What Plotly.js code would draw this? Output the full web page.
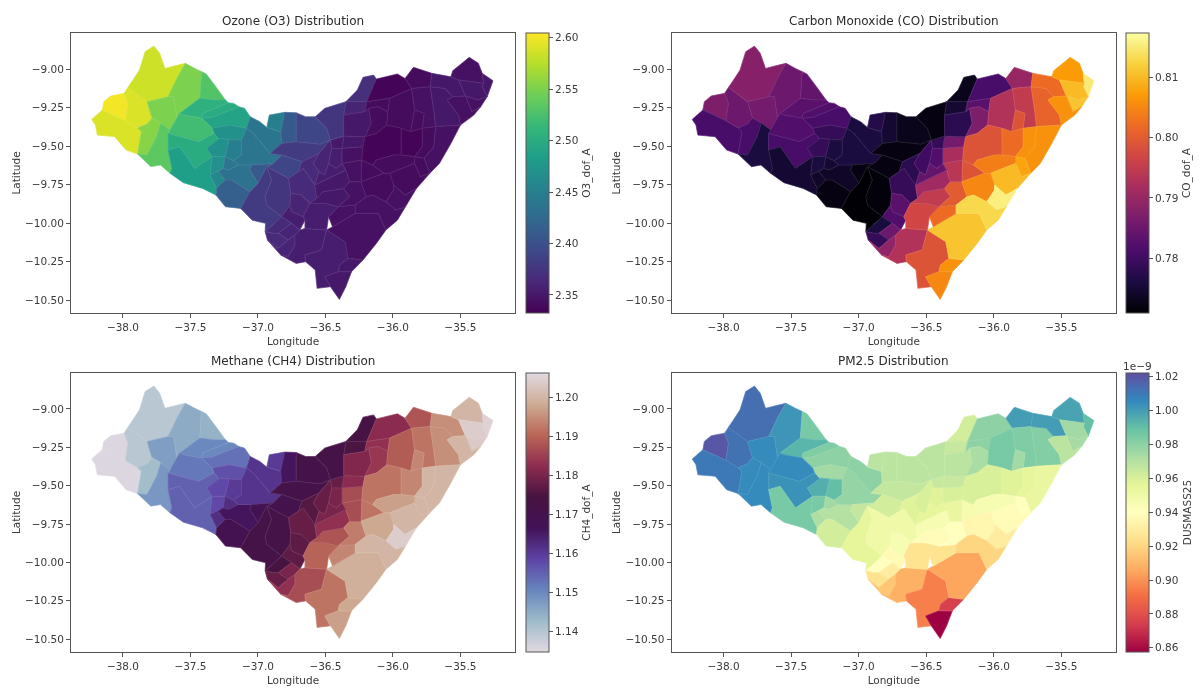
<!DOCTYPE html>
<html><head><meta charset="utf-8">
<script src="https://cdn.plot.ly/plotly-3.0.1.min.js"></script>
<style>html,body{margin:0;padding:0;background:#fff}#g{width:1199px;height:688px;filter:blur(0.45px)}</style>
</head><body><div id="g"></div>
<script>
// State boundary nodes (lon, lat), ids 0..80
const outlineLon=[-38.232,-38.153,-38.142,-38.091,-37.992,-37.963,-37.926,-37.878,-37.836,-37.771,-37.728,-37.689,-37.623,-37.538,-37.468,-37.417,-37.383,-37.312,-37.241,-37.179,-37.100,-37.057,-36.986,-36.935,-36.916,-36.802,-36.717,-36.647,-36.576,-36.505,-36.349,-36.264,-36.222,-36.143,-36.123,-35.967,-35.911,-35.848,-35.712,-35.571,-35.557,-35.435,-35.367,-35.339,-35.259,-35.302,-35.401,-35.500,-35.571,-35.656,-35.727,-35.826,-35.967,-36.052,-36.123,-36.222,-36.307,-36.349,-36.397,-36.463,-36.562,-36.576,-36.647,-36.717,-36.831,-36.930,-36.944,-37.043,-37.128,-37.241,-37.312,-37.411,-37.553,-37.652,-37.723,-37.793,-37.892,-37.977,-38.062,-38.190,-38.204];
const outlineLat=[-9.327,-9.266,-9.212,-9.175,-9.158,-9.119,-9.071,-9.006,-8.887,-8.851,-8.898,-8.996,-8.981,-8.963,-8.996,-9.017,-9.032,-9.115,-9.201,-9.223,-9.255,-9.310,-9.342,-9.379,-9.299,-9.281,-9.284,-9.310,-9.310,-9.255,-9.212,-9.136,-9.054,-9.039,-9.065,-9.032,-9.061,-8.989,-9.028,-9.050,-9.011,-8.924,-8.963,-9.028,-9.076,-9.180,-9.299,-9.364,-9.483,-9.613,-9.677,-9.775,-9.981,-10.045,-10.132,-10.240,-10.316,-10.413,-10.496,-10.413,-10.424,-10.305,-10.251,-10.262,-10.208,-10.110,-10.002,-9.981,-9.905,-9.894,-9.818,-9.775,-9.738,-9.677,-9.623,-9.634,-9.552,-9.526,-9.439,-9.429,-9.364];
// Interior boundary nodes: id -> [lon, lat]
const innerNodes={100:[-37.963,-9.223],101:[-37.983,-9.335],102:[-37.864,-9.407],103:[-37.785,-9.318],104:[-37.822,-9.357],105:[-37.890,-9.383],106:[-37.822,-9.212],107:[-37.666,-9.180],108:[-37.595,-9.050],109:[-37.623,-9.180],110:[-37.601,-9.318],111:[-37.652,-9.396],112:[-37.720,-9.351],113:[-37.431,-9.190],114:[-37.581,-9.288],115:[-37.326,-9.201],116:[-37.751,-9.439],117:[-37.822,-9.558],118:[-37.666,-9.526],119:[-37.638,-9.645],120:[-37.219,-9.219],121:[-37.411,-9.288],122:[-37.417,-9.320],123:[-37.553,-9.299],124:[-37.142,-9.245],125:[-37.340,-9.314],126:[-37.085,-9.385],127:[-37.213,-9.364],128:[-37.340,-9.385],129:[-37.326,-9.418],130:[-37.439,-9.472],131:[-37.666,-9.418],132:[-37.284,-9.461],133:[-37.340,-9.569],134:[-37.468,-9.645],135:[-37.581,-9.504],140:[-37.380,-9.515],141:[-37.281,-9.450],142:[-37.122,-9.461],143:[-37.122,-9.558],144:[-37.182,-9.595],145:[-37.244,-9.569],147:[-37.213,-9.457],148:[-37.258,-9.645],150:[-37.219,-9.656],151:[-37.295,-9.667],152:[-37.244,-9.721],153:[-37.306,-9.775],154:[-37.354,-9.688],155:[-37.145,-9.623],156:[-37.046,-9.623],157:[-37.060,-9.656],158:[-36.998,-9.742],159:[-37.060,-9.797],160:[-37.196,-9.721],164:[-37.034,-9.418],165:[-36.910,-9.548],166:[-36.825,-9.558],167:[-36.887,-9.613],170:[-36.935,-9.634],171:[-36.899,-9.721],172:[-36.947,-9.829],173:[-36.935,-9.883],174:[-36.825,-9.959],175:[-36.947,-10.056],176:[-36.675,-9.602],177:[-36.700,-9.667],178:[-36.774,-9.710],179:[-36.757,-9.807],180:[-36.763,-9.883],181:[-36.831,-9.407],182:[-36.825,-9.483],183:[-36.717,-9.418],184:[-36.717,-9.472],185:[-36.491,-9.385],186:[-36.463,-9.461],187:[-36.539,-9.489],188:[-36.548,-9.548],189:[-36.664,-9.645],190:[-36.579,-9.753],191:[-36.564,-9.840],192:[-36.678,-9.818],194:[-36.616,-9.872],195:[-36.666,-9.959],196:[-36.751,-9.926],197:[-36.652,-9.981],198:[-36.689,-10.045],199:[-36.751,-10.002],200:[-36.726,-10.078],201:[-36.777,-10.110],202:[-36.850,-10.067],203:[-36.887,-10.067],204:[-36.850,-10.165],206:[-36.726,-10.143],207:[-36.777,-10.219],208:[-36.652,-10.035],209:[-36.491,-10.045],210:[-36.530,-10.175],211:[-36.652,-10.208],213:[-36.355,-10.121],214:[-36.332,-10.229],215:[-36.395,-10.273],216:[-36.505,-10.349],217:[-36.406,-10.316],219:[-36.279,-9.937],220:[-36.109,-9.937],221:[-36.448,-10.024],222:[-36.477,-9.959],223:[-36.406,-9.894],224:[-36.279,-9.883],225:[-36.505,-9.872],226:[-36.519,-9.797],227:[-36.364,-9.775],228:[-36.321,-9.829],229:[-36.349,-9.656],230:[-36.321,-9.732],231:[-36.236,-9.732],232:[-36.199,-9.829],233:[-36.378,-9.613],234:[-36.230,-9.591],235:[-36.151,-9.623],236:[-36.066,-9.677],237:[-36.378,-9.515],238:[-36.222,-9.504],239:[-36.364,-9.435],240:[-36.208,-9.439],241:[-36.454,-9.515],243:[-36.548,-9.667],244:[-36.590,-9.613],246:[-36.477,-9.613],247:[-36.505,-9.688],248:[-36.420,-9.645],249:[-36.364,-9.299],251:[-36.194,-9.212],253:[-36.208,-9.277],254:[-36.179,-9.255],255:[-36.160,-9.353],256:[-35.862,-9.126],257:[-36.024,-9.190],258:[-35.724,-9.115],259:[-36.038,-9.277],260:[-36.109,-9.245],261:[-36.046,-9.364],262:[-36.123,-9.418],263:[-35.840,-9.266],264:[-35.868,-9.407],265:[-35.939,-9.385],266:[-35.698,-9.266],267:[-35.684,-9.374],268:[-35.783,-9.385],269:[-35.769,-9.288],271:[-35.613,-9.126],272:[-35.557,-9.180],273:[-35.599,-9.201],274:[-35.514,-9.299],276:[-35.514,-9.071],277:[-35.463,-9.175],278:[-35.330,-9.093],279:[-35.339,-9.115],280:[-35.373,-9.201],281:[-35.350,-9.245],282:[-35.415,-9.277],283:[-35.939,-9.504],284:[-35.995,-9.558],285:[-36.123,-9.591],286:[-35.783,-9.504],287:[-35.840,-9.569],288:[-35.939,-9.558],289:[-35.698,-9.504],290:[-35.769,-9.580],291:[-35.797,-9.699],292:[-35.840,-9.613],293:[-36.024,-9.677],294:[-35.911,-9.818],295:[-35.995,-9.753],296:[-35.995,-9.786],297:[-36.052,-9.861],298:[-36.151,-9.818],299:[-35.981,-9.916],302:[-35.910,-9.898]};
// Municipalities: rings of node ids
const municipalities=[[1,2,3,4,100,101],[0,1,101,105,102,76,77,78,79,80],[4,5,106,103,104,105,101,100],[5,6,7,8,9,10,11,12,13,108,107,106],[106,107,109,110,111,112,103],[13,14,15,113,114,110,109,107,108],[15,16,17,18,115,113],[114,113,115,18,120,121,122,123],[121,120,19,124,125,122],[122,125,124,20,21,126,127,128],[128,127,126,142,147,141,132,129],[111,110,114,123,122,128,129,130,131],[105,104,103,112,116,117,76,102],[112,111,131,118,119,73,74,75,76,117,116],[131,130,129,132,140,133,134,135,118],[118,135,134,133,154,153,70,71,72,73,119],[140,141,147,145,133],[147,142,143,144,145],[133,145,148,154],[145,144,155,150,148],[154,148,151,152,153],[150,155,156,157,158,159,160,152,151,148],[153,152,160,159,68,69,70],[144,143,142,126,164,165,166,167,156,155],[126,21,22,23,181,182,165,164],[23,24,25,181],[25,26,183,184,182,181],[26,27,28,185,186,187,184,183],[182,184,187,186,188,176,166,165],[167,166,176,177,178,170],[156,167,170,158,157],[68,159,158,170,171,172,173,174,175,66,67],[170,178,179,180,174,173,172,171],[178,177,189,190,191,194,192,179],[179,192,194,195,196,180],[174,180,196,195,197,198,199],[174,199,202,203,175],[202,199,198,200,201],[175,203,202,201,204,65],[204,201,200,206,207,64,65],[200,198,208,209,210,211,62,63,64,207,206],[209,213,214,215,217,216,59,60,61,62,211,210],[216,217,56,57,58,59],[215,214,55,56,217],[209,221,219,220,53,54,55,214,213],[222,223,224,219,221],[194,225,223,222,209,208,197,195],[191,226,227,228,223,225,194],[190,229,230,227,226,191],[227,230,231,232,224,223,228],[233,234,231,230,229],[234,235,236,231],[237,238,234,233],[239,240,238,237],[186,239,237,241],[176,188,244,243,190,189,177],[188,186,241,246,247,243,244],[241,237,233,248,246],[246,248,233,229,190,243,247],[28,29,30,249,239,186,185],[30,31,32,33,34,251],[30,251,253,249],[249,253,254,255,240,239],[34,35,36,256,257,251],[36,37,38,258,256],[251,257,259,260,254,253],[254,260,259,261,262,240,255],[257,256,263,264,265,261,259],[256,258,266,267,268,269,263],[263,269,268,264],[258,271,272,273,274,47,267,266],[38,39,276,277,272,271,258],[39,40,41,42,43,278,276],[43,44,45,279,278],[276,278,279,45,280,277],[277,280,45,281,282],[272,277,282,281,46,47,274,273],[240,262,261,265,283,288,284,285,235,234,238],[265,264,268,286,287,288,283],[268,267,289,290,287,286],[267,47,48,49,50,290,289],[287,290,50,291,292],[235,285,284,288,287,292,293,236],[293,292,291,50,51,294,295],[231,236,293,295,296,297,298,232],[297,296,295,294,51,302,299],[232,298,297,299,302,52,53,220,219,224]];
const O3Values=[2.60,2.59,2.59,2.585,2.55,2.55,2.53,2.505,2.50,2.49,2.47,2.52,2.555,2.535,2.50,2.485,2.47,2.45,2.47,2.44,2.46,2.435,2.415,2.44,2.44,2.45,2.41,2.39,2.38,2.39,2.41,2.38,2.375,2.365,2.36,2.355,2.365,2.36,2.365,2.36,2.355,2.355,2.35,2.35,2.345,2.345,2.355,2.35,2.35,2.345,2.345,2.34,2.345,2.35,2.35,2.365,2.36,2.355,2.355,2.375,2.37,2.36,2.35,2.335,2.34,2.34,2.34,2.34,2.345,2.34,2.35,2.35,2.345,2.35,2.35,2.345,2.345,2.335,2.335,2.34,2.345,2.34,2.34,2.34,2.34,2.345,2.345];
const COValues=[.787,.781,.785,.788,.786,.785,.784,.783,.782,.781,.779,.782,.781,.776,.781,.775,.779,.776,.776,.775,.774,.774,.772,.776,.776,.777,.775,.773,.772,.772,.772,.771,.7715,.779,.783,.782,.776,.785,.779,.789,.793,.799,.805,.806,.811,.802,.797,.795,.791,.80,.794,.799,.792,.786,.779,.778,.78,.782,.784,.772,.773,.775,.778,.781,.79,.783,.787,.793,.795,.799,.801,.802,.807,.815,.81,.811,.806,.799,.802,.806,.806,.808,.804,.81,.805,.8155,.813];
const CH4Values=[1.1355,1.1355,1.1395,1.1395,1.147,1.145,1.144,1.15,1.15,1.153,1.157,1.152,1.142,1.148,1.155,1.155,1.158,1.16,1.158,1.162,1.162,1.166,1.169,1.161,1.161,1.16,1.166,1.171,1.171,1.17,1.168,1.172,1.172,1.178,1.177,1.177,1.174,1.18,1.178,1.183,1.187,1.192,1.197,1.198,1.199,1.194,1.19,1.188,1.183,1.193,1.187,1.192,1.187,1.182,1.178,1.176,1.178,1.18,1.18,1.172,1.173,1.175,1.181,1.182,1.188,1.183,1.184,1.189,1.192,1.194,1.195,1.195,1.2,1.205,1.204,1.2035,1.2,1.192,1.194,1.2,1.2,1.2,1.197,1.2,1.198,1.204,1.2];
const PMValues=[1.02,1.01,1.012,1.013,1.005,1.002,.985,.993,.983,.98,.975,1.005,1.005,1.005,1.003,.985,.995,.99,.985,.975,.972,.97,.962,.978,.98,.968,.968,.968,.966,.962,.966,.955,.95,.95,.945,.937,.94,.93,.925,.915,.908,.895,.8575,.875,.905,.925,.925,.938,.945,.94,.953,.946,.96,.965,.965,.958,.96,.958,.955,.968,.962,.965,.968,.98,1.0,.98,.973,.985,.983,.975,.982,1.0,.998,.99,.975,.974,.968,.96,.958,.955,.953,.94,.945,.938,.935,.93,.92];
// Colormaps
const viridisStops=["#440154","#482878","#3e4989","#31688e","#26828e","#1f9e89","#35b779","#6ece58","#b5de2b","#fde725"];
const infernoStops=["#000004","#1b0c41","#4a0c6b","#781c6d","#a52c60","#cf4446","#ed6925","#fb9b06","#f7d13d","#fcffa4"];
const twilightStops=["#e2d9e2","#9ebbc9","#6785be","#5e43a5","#421257","#471340","#8e2c50","#ba6657","#ceac94","#e2d9e2"];
const spectralStops=["#9e0142","#d53e4f","#f46d43","#fdae61","#fee08b","#ffffbf","#e6f598","#abdda4","#66c2a5","#3288bd","#5e4fa2"];
// Panel texts and scales
const panelTitles=["Ozone (O3) Distribution","Carbon Monoxide (CO) Distribution","Methane (CH4) Distribution","PM2.5 Distribution"];
const colorbarTitles=["O3_dof_A","CO_dof_A","CH4_dof_A","DUSMASS25"];
const valueRanges=[[2.3325,2.6046],[.77093,.81734],[1.1347,1.2063],[.8575,1.0222]];
const colorbarTicks=[[2.35,2.40,2.45,2.50,2.55,2.60],[.78,.79,.80,.81],[1.14,1.15,1.16,1.17,1.18,1.19,1.20],[.86,.88,.90,.92,.94,.96,.98,1.00,1.02]];
const lonTicks=[-38,-37.5,-37,-36.5,-36,-35.5];
const latTicks=[-9,-9.25,-9.5,-9.75,-10,-10.25,-10.5];

const W=1199,H=688;
const font='"DejaVu Sans", sans-serif', txt='#3a3a3a', axc='#555555';
const boxes=[[71,515,33,313],[671.5,1116,33,313],[71,515,373,652],[671.5,1116,373,652]];
const cbarLeft=[526,1126,526,1126];
const values=[O3Values,COValues,CH4Values,PMValues];
const stops=[viridisStops,infernoStops,twilightStops,spectralStops];

const hex=h=>[1,3,5].map(i=>parseInt(h.substr(i,2),16));
function sample(st,t){t=Math.max(0,Math.min(1,t));const p=t*(st.length-1),i=Math.min(Math.floor(p),st.length-2),f=p-i,a=hex(st[i]),b=hex(st[i+1]);return a.map((v,k)=>v+(b[k]-v)*f);}
const css=c=>`rgb(${c.map(v=>Math.round(v)).join(',')})`;
const node=id=>id<100?[outlineLon[id],outlineLat[id]]:innerNodes[id];
const scale=st=>st.map((c,i)=>[i/(st.length-1),c]);

const traces=[];const layout={width:W,height:H,margin:{l:0,r:0,t:0,b:0,autoexpand:false},paper_bgcolor:'#fff',plot_bgcolor:'#fff',showlegend:false,font:{family:font,size:10.5,color:txt},annotations:[]};
boxes.forEach((b,p)=>{
  const sfx=p===0?'':String(p+1);
  const [lo,hi]=valueRanges[p];
  municipalities.forEach((ring,m)=>{
    const pts=ring.map(node);pts.push(pts[0]);
    const col=sample(stops[p],(values[p][m]-lo)/(hi-lo));
    const edge=col.map(v=>v+(255-v)*0.1);
    traces.push({type:'scatter',mode:'lines',x:pts.map(q=>q[0]),y:pts.map(q=>q[1]),xaxis:'x'+sfx,yaxis:'y'+sfx,fill:'toself',fillcolor:css(col),line:{color:css(edge),width:0.7,simplify:false},hoverinfo:'skip'});
  });
  // colour scale carrier
  const cx=municipalities.map(r=>node(r[0])[0]),cy=municipalities.map(r=>node(r[0])[1]);
  traces.push({type:'scatter',mode:'markers',x:cx,y:cy,xaxis:'x'+sfx,yaxis:'y'+sfx,hoverinfo:'skip',
    marker:{size:1,opacity:0,color:values[p],cmin:lo,cmax:hi,colorscale:scale(stops[p]),showscale:true,
      colorbar:{x:cbarLeft[p]/W,xanchor:'left',xpad:0,y:1-b[2]/H,yanchor:'top',ypad:0,thickness:23,thicknessmode:'pixels',len:b[3]-b[2],lenmode:'pixels',
        outlinecolor:axc,outlinewidth:1,borderwidth:0,ticks:'outside',ticklen:4,tickwidth:1,tickcolor:axc,tickvals:colorbarTicks[p],ticktext:colorbarTicks[p].map(v=>v.toFixed(2)),tickfont:{family:font,size:10.5,color:txt},
        title:{text:colorbarTitles[p],side:'right',font:{family:font,size:10.5,color:txt}}}}});
  const ax={linecolor:axc,linewidth:1,mirror:true,showline:true,showgrid:false,zeroline:false,ticks:'outside',ticklen:4,tickwidth:1,tickcolor:axc,tickfont:{family:font,size:10.5,color:txt},automargin:false};
  layout['xaxis'+sfx]=Object.assign({},ax,{domain:[b[0]/W,b[1]/W],range:[-38.385,-35.096],tickvals:lonTicks,tickformat:'.1f',anchor:'y'+sfx,title:{text:'Longitude',standoff:6,font:{family:font,size:10.5,color:txt}}});
  layout['yaxis'+sfx]=Object.assign({},ax,{domain:[1-b[3]/H,1-b[2]/H],range:[-10.584,-8.766],tickvals:latTicks,tickformat:'.2f',anchor:'x'+sfx,title:{text:'Latitude',standoff:2,font:{family:font,size:10.5,color:txt}}});
  layout.annotations.push({xref:'paper',yref:'paper',x:(b[0]+b[1])/2/W,y:1-(b[2]-12)/H,xanchor:'center',yanchor:'middle',showarrow:false,text:panelTitles[p],font:{family:font,size:12,color:'#2a2a2a'}});
});
layout.annotations.push({xref:'paper',yref:'paper',x:1137/W,y:1-366/H,xanchor:'center',yanchor:'middle',showarrow:false,text:'1e\u22129',font:{family:font,size:10.5,color:txt}});
Plotly.newPlot('g',traces,layout,{staticPlot:true,displayModeBar:false});
</script></body></html>
